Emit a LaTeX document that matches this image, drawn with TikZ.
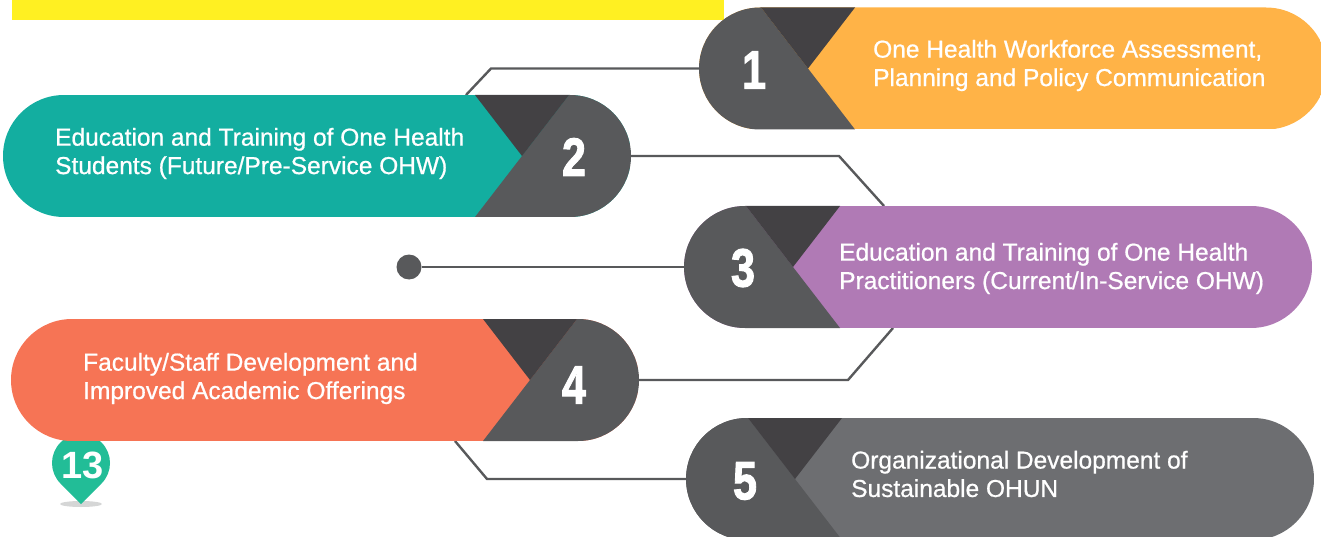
\documentclass[tikz,border=0pt]{standalone}
\usepackage{fontspec}
\setmainfont{Liberation Sans}
\newfontfamily\numfont[FakeBold=2]{Liberation Sans Bold}
\newfontfamily\labelfont[FakeBold=0.7]{Liberation Sans}
\definecolor{cdark}{HTML}{58595B}
\definecolor{ctri}{HTML}{434144}
\definecolor{corange}{HTML}{FFB347}
\definecolor{cteal}{HTML}{13AEA0}
\definecolor{cpurple}{HTML}{B07AB5}
\definecolor{ccoral}{HTML}{F67455}
\definecolor{cgray}{HTML}{6D6E71}
\definecolor{cyell}{HTML}{FFF022}
\definecolor{cpin}{HTML}{22BD97}
\definecolor{cshadow}{HTML}{D5D6D6}
\tikzset{
  pillnode/.style={minimum width=628pt,minimum height=122pt,inner sep=0pt,outer sep=0pt,anchor=north west},
  conn/.style={draw=cdark,line width=2.4pt},
  label/.style={anchor=west,align=left,text=white,inner sep=0pt,font=\fontsize{24.5}{28.4}\labelfont},
  digit/.style={text=white,inner sep=0pt,font=\fontsize{54}{54}\numfont},
}
\newcommand{\numtxt}[1]{\scalebox{0.8}[1]{#1}}
% left-number pill: x, y, colour
\newcommand{\pillL}[3]{%
  \begin{scope}
    \clip[rounded corners=61pt] (#1,#2) rectangle (#1+628,#2+122);
    \fill[#3] (#1,#2) rectangle (#1+628,#2+122);
    \fill[cdark] (#1,#2) -- (#1+62,#2) -- (#1+109,#2+61) -- (#1+156,#2+122) -- (#1,#2+122) -- cycle;
    \fill[ctri] (#1+62,#2) -- (#1+156,#2) -- (#1+109,#2+61) -- cycle;
  \end{scope}}
% right-number pill
\newcommand{\pillR}[3]{%
  \begin{scope}
    \clip[rounded corners=61pt] (#1,#2) rectangle (#1+628,#2+122);
    \fill[#3] (#1,#2) rectangle (#1+628,#2+122);
    \fill[cdark] (#1+566,#2) -- (#1+628,#2) -- (#1+628,#2+122) -- (#1+472,#2+122) -- (#1+519,#2+61) -- cycle;
    \fill[ctri] (#1+472,#2) -- (#1+566,#2) -- (#1+519,#2+61) -- cycle;
  \end{scope}}
\begin{document}
\begin{tikzpicture}[x=1pt,y=-1pt]
\clip (0,0) rectangle (1321,537);
\useasboundingbox (0,0) rectangle (1321,537);
% yellow band
\fill[cyell] (12,0) rectangle (724,20);
% anchors
\node[pillnode] (p1) at (699,7.5) {};
\node[pillnode] (p2) at (3,95) {};
\node[pillnode] (p3) at (684,206) {};
\node[pillnode] (p4) at (11,319) {};
\node[pillnode] (p5) at (686,418) {};
\node[circle,fill=cdark,minimum size=25pt,inner sep=0pt] (dot) at (409,267) {};
\coordinate (c1a) at (491,68.5);
\coordinate (c1b) at (466,95);
\coordinate (c2a) at (839,156);
\coordinate (c2b) at (884,206);
\coordinate (c4a) at (848,380);
\coordinate (c4b) at (893,328);
\coordinate (c5a) at (455,441);
\coordinate (c5b) at (487,479);
% connectors
\draw[conn] (p1.west) -- (c1a) -- (c1b);
\draw[conn] (p2.east) -- (c2a) -- (c2b);
\draw[conn] (dot) -- (p3.west);
\draw[conn] (p4.east) -- (c4a) -- (c4b);
\draw[conn] (c5a) -- (c5b) -- (p5.west);
% pin
\fill[cshadow] (81,504) ellipse [x radius=21pt,y radius=3pt];
\fill[cpin] (81,504) -- (60.5,483.5) arc[start angle=225,end angle=-45,radius=29pt] -- cycle;
\node[text=white,inner sep=0pt,font=\fontsize{38}{38}\selectfont\bfseries] (pinlabel) at (82.5,465.5) {13};
% pills
\pillL{699}{7.5}{corange}
\pillR{3}{95}{cteal}
\pillL{684}{206}{cpurple}
\pillR{11}{319}{ccoral}
\pillL{686}{418}{cgray}
% digits
\node[digit] (n1) at (754,70) {\numtxt{1}};
\node[digit] (n2) at (574,157) {\numtxt{2}};
\node[digit] (n3) at (743,268) {\numtxt{3}};
\node[digit] (n4) at (574,385) {\numtxt{4}};
\node[digit] (n5) at (745,481) {\numtxt{5}};
% labels
\node[label] (t1) at (873,65.5) {One Health Workforce Assessment,\\Planning and Policy Communication};
\node[label] (t2) at (55,153.5) {Education and Training of One Health\\Students (Future/Pre-Service OHW)};
\node[label] (t3) at (839,268.5) {Education and Training of One Health\\Practitioners (Current/In-Service OHW)};
\node[label] (t4) at (83,378.5) {Faculty/Staff Development and\\Improved Academic Offerings};
\node[label] (t5) at (851,474) {Organizational Development of\\Sustainable OHUN};
\end{tikzpicture}
\end{document}
